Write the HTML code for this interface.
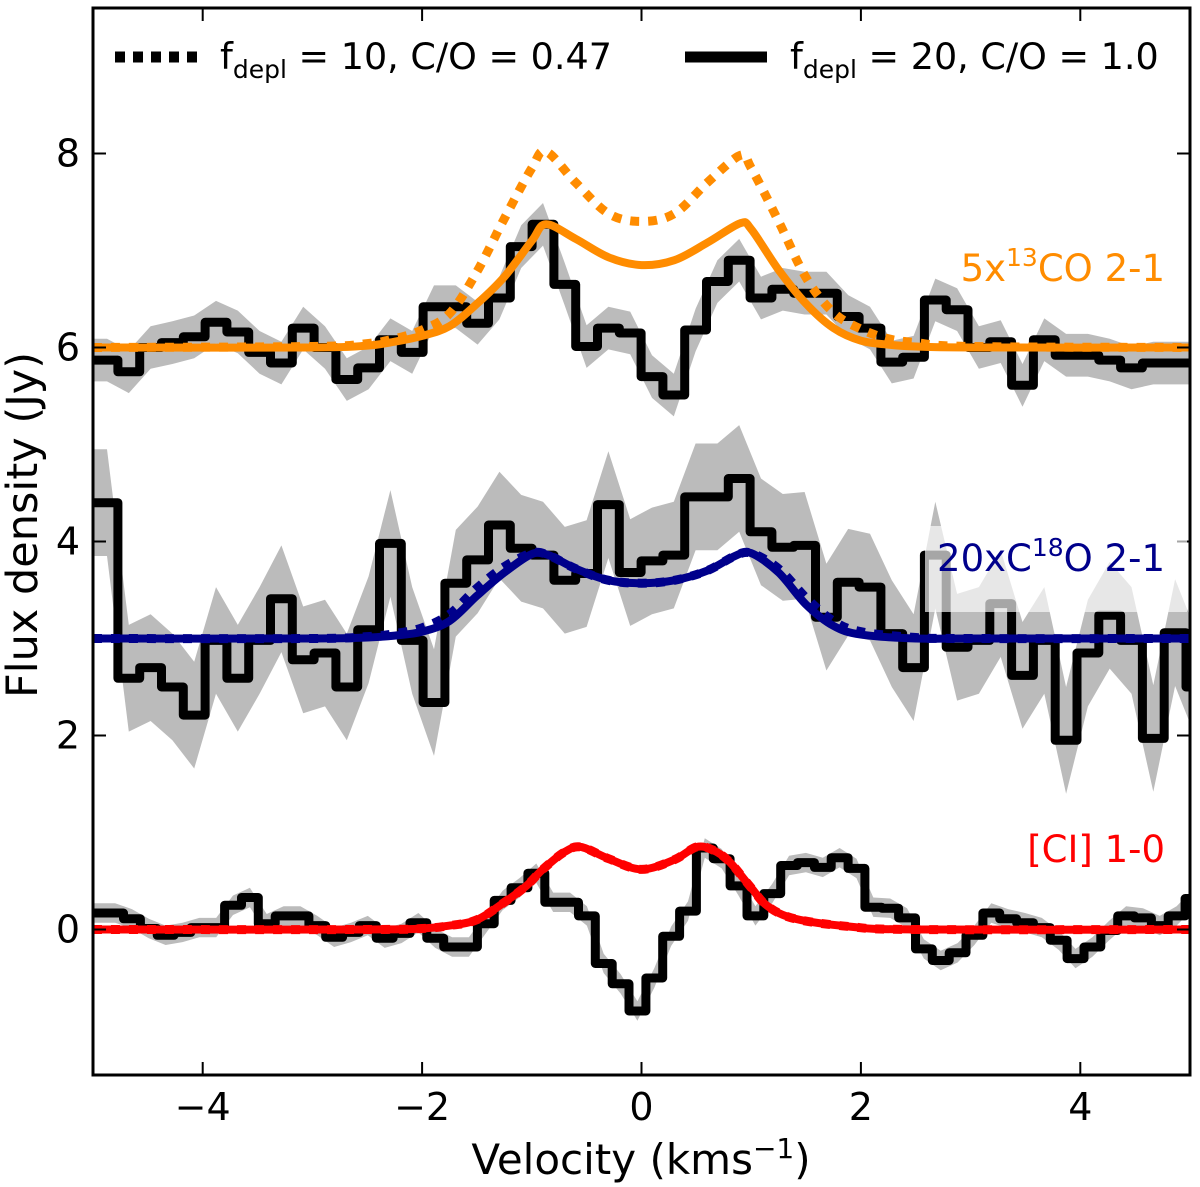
<!DOCTYPE html>
<html><head><meta charset="utf-8"><style>
html,body{margin:0;padding:0;background:#fff;}
svg{display:block;font-family:"DejaVu Sans","Liberation Sans",sans-serif;}
</style></head><body>
<svg id="chart" width="1200" height="1187" viewBox="0 0 1200 1187" xmlns="http://www.w3.org/2000/svg">
<defs><clipPath id="clip"><rect x="93" y="8" width="1097" height="1067"/></clipPath></defs>
<g id="plot" clip-path="url(#clip)"></g>
<rect x="93" y="8" width="1097" height="1067" fill="none" stroke="#000" stroke-width="3"/>
<g id="axes"></g>
<g font-size="36.5">
  <g>
    <line x1="115" y1="57" x2="197" y2="57" stroke="#000" stroke-width="11" stroke-dasharray="10,8"/>
    <text x="220" y="69">f<tspan font-size="25" dy="9">depl</tspan><tspan dy="-9"> = 10, C/O = 0.47</tspan></text>
  </g>
  <g>
    <line x1="685" y1="57" x2="767" y2="57" stroke="#000" stroke-width="11"/>
    <text x="790" y="69">f<tspan font-size="25" dy="9">depl</tspan><tspan dy="-9"> = 20, C/O = 1.0</tspan></text>
  </g>
</g>
<text x="1165" y="281" text-anchor="end" font-size="37" fill="#ff8c00">5x<tspan font-size="25" dy="-15">13</tspan><tspan dy="15">CO 2-1</tspan></text>
<rect x="925" y="526" width="262" height="86" fill="#fff" fill-opacity="0.65"/>
<text x="1165" y="571" text-anchor="end" font-size="37" fill="#00008b">20xC<tspan font-size="25" dy="-15">18</tspan><tspan dy="15">O 2-1</tspan></text>
<text x="1165" y="862" text-anchor="end" font-size="37" fill="#ff0000">[CI] 1-0</text>
<text x="641" y="1174" text-anchor="middle" font-size="42">Velocity (kms<tspan font-size="28" dy="-16">−1</tspan><tspan dy="16">)</tspan></text>
<text transform="translate(37,525) rotate(-90)" text-anchor="middle" font-size="43">Flux density (Jy)</text>
</svg>
<script>
// ---- data ----
const xTicks = [-4,-2,0,2,4];
const yTicks = [0,2,4,6,8];
const coStart = -5.17, coDv = 0.1987;
const co13 = [5.87,5.87,5.75,6.0,6.05,6.11,6.26,6.16,5.95,5.84,6.2,6.0,5.67,5.79,6.08,5.95,6.42,6.42,6.25,6.51,7.04,7.27,6.65,6.01,6.2,6.15,5.7,5.51,6.18,6.68,6.9,6.51,6.6,6.56,6.56,6.32,6.2,5.85,5.9,6.49,6.39,6.0,6.06,5.61,6.08,5.92,5.92,5.87,5.79,5.84,5.84,5.84];
const c18o = [4.4,4.4,2.59,2.7,2.5,2.21,2.98,2.59,2.98,3.41,2.78,2.85,2.5,3.09,3.98,2.98,2.34,3.57,3.81,4.17,3.93,3.86,3.6,3.67,4.38,3.68,3.8,3.86,4.46,4.46,4.65,4.1,3.94,3.96,3.22,3.58,3.53,3.05,2.7,3.86,2.91,2.98,3.36,2.62,2.98,1.95,2.85,3.24,2.98,1.97,3.06,2.5,2.5];
const ciStart = -5.029, ciDv = 0.1536;
const ci = [0.17,0.17,0.11,0.01,-0.06,-0.03,0.02,0.02,0.25,0.33,0.06,0.14,0.14,0.04,-0.08,-0.03,0.04,-0.09,-0.04,0.07,-0.09,-0.18,-0.18,0.06,0.3,0.43,0.58,0.28,0.28,0.14,-0.35,-0.56,-0.84,-0.5,-0.07,0.19,0.84,0.73,0.45,0.14,0.37,0.66,0.69,0.64,0.74,0.63,0.23,0.22,0.12,-0.2,-0.32,-0.24,-0.06,0.17,0.11,0.07,0.02,-0.11,-0.3,-0.18,-0.01,0.14,0.12,0.04,0.14,0.32,0.32];
const errCo = 0.22, errC18o = 0.55, errCi = 0.1;
const coV = [-5,-3,-2.5,-2.25,-2,-1.75,-1.5,-1.25,-1,-0.87,-0.6,-0.3,0,0.3,0.6,0.9,1,1.25,1.5,1.75,2,2.25,2.5,3,5];
const coSolid = [6.0,6.0,6.02,6.06,6.12,6.22,6.45,6.73,7.1,7.27,7.12,6.93,6.85,6.9,7.08,7.28,7.22,6.8,6.45,6.2,6.07,6.03,6.01,6.0,6.0];
const coDotted = [6.0,6.01,6.04,6.09,6.18,6.35,6.78,7.33,7.85,8.02,7.7,7.38,7.3,7.38,7.7,7.98,7.85,7.3,6.72,6.36,6.19,6.09,6.05,6.01,6.0];
const c18V = [-5,-3,-2.5,-2.25,-2,-1.75,-1.5,-1.25,-1,-0.85,-0.6,-0.3,0,0.3,0.6,0.85,1,1.25,1.5,1.75,2,2.5,3,5];
const c18Solid = [3.0,3.0,3.01,3.03,3.07,3.18,3.44,3.68,3.87,3.86,3.72,3.6,3.57,3.6,3.7,3.85,3.88,3.68,3.35,3.13,3.04,3.0,3.0,3.0];
const c18Dotted = [3.0,3.0,3.02,3.05,3.11,3.25,3.52,3.74,3.88,3.86,3.72,3.6,3.57,3.6,3.7,3.85,3.88,3.72,3.42,3.18,3.07,3.01,3.0,3.0];
const ciV = [-5,-2.5,-2,-1.75,-1.5,-1.25,-1.05,-0.9,-0.7,-0.55,-0.3,0,0.3,0.5,0.65,0.8,1.0,1.15,1.4,1.9,2.5,5];
const ciSolid = [0,0,0.01,0.04,0.1,0.28,0.45,0.62,0.8,0.85,0.73,0.62,0.72,0.85,0.82,0.7,0.43,0.24,0.11,0.03,0,0];
const ciDotted = [0,0,0.01,0.04,0.1,0.28,0.45,0.62,0.8,0.85,0.73,0.62,0.72,0.85,0.82,0.7,0.43,0.24,0.11,0.03,0,0];

// ---- scales ----
const X0=93, X1=1190, Y0=8, Y1=1075, VMIN=-5, VMAX=5, FMIN=-1.5, FMAX=9.5;
function xs(v){return X0+(v-VMIN)/(VMAX-VMIN)*(X1-X0);}
function ys(f){return Y1-(f-FMIN)/(FMAX-FMIN)*(Y1-Y0);}
const NS='http://www.w3.org/2000/svg';
const plot=document.getElementById('plot'), axes=document.getElementById('axes');
function mk(tag,attrs,parent){const e=document.createElementNS(NS,tag);for(const k in attrs)e.setAttribute(k,attrs[k]);parent.appendChild(e);return e;}

function band(vals,start,dv,err,name){
  const up=[],lo=[];
  vals.forEach((f,i)=>{const x=xs(start+(i+0.5)*dv);up.push(x.toFixed(1)+','+ys(f+err).toFixed(1));lo.unshift(x.toFixed(1)+','+ys(f-err).toFixed(1));});
  const first=xs(start), last=xs(start+vals.length*dv);
  const p=mk('polygon',{points:[first+','+ys(vals[0]+err)].concat(up,[last+','+ys(vals[vals.length-1]+err),last+','+ys(vals[vals.length-1]-err)],lo,[first+','+ys(vals[0]-err)]).join(' '),fill:'#bbbbbb'},plot);
  
  
}
function steps(vals,start,dv,name){
  let d='';
  vals.forEach((f,i)=>{const xa=xs(start+i*dv),xb=xs(start+(i+1)*dv),y=ys(f);d+=(i===0?'M'+xa.toFixed(1)+','+y.toFixed(1):'V'+y.toFixed(1))+'H'+xb.toFixed(1);});
  const p=mk('path',{d:d,fill:'none',stroke:'#000','stroke-width':9,'stroke-linejoin':'round'},plot);
  
  
}
function curve(vs,fs,color,dotted,name){
  const pts=vs.map((v,i)=>[xs(v),ys(fs[i])]);
  let d='M'+pts[0][0]+','+pts[0][1];
  for(let i=0;i<pts.length-1;i++){
    const p0=pts[Math.max(0,i-1)],p1=pts[i],p2=pts[i+1],p3=pts[Math.min(pts.length-1,i+2)];
    const c1=[p1[0]+(p2[0]-p0[0])/6,p1[1]+(p2[1]-p0[1])/6],c2=[p2[0]-(p3[0]-p1[0])/6,p2[1]-(p3[1]-p1[1])/6];
    d+='C'+c1[0].toFixed(1)+','+c1[1].toFixed(1)+' '+c2[0].toFixed(1)+','+c2[1].toFixed(1)+' '+p2[0].toFixed(1)+','+p2[1].toFixed(1);
  }
  const a={d:d,fill:'none',stroke:color,'stroke-width':dotted?9:8};
  if(dotted)a['stroke-dasharray']='9,9';
  const p=mk('path',a,plot);
  
  
}
band(co13,coStart,coDv,errCo,'band-13co');
band(c18o,coStart,coDv,errC18o,'band-c18o');
band(ci,ciStart,ciDv,errCi,'band-ci');
steps(co13,coStart,coDv,'spectrum-13co');
steps(c18o,coStart,coDv,'spectrum-c18o');
steps(ci,ciStart,ciDv,'spectrum-ci');
curve(coV,coSolid,'#ff8c00',false,'model-13co-solid');
curve(coV,coDotted,'#ff8c00',true,'model-13co-dotted');
curve(c18V,c18Solid,'#00008b',false,'model-c18o-solid');
curve(c18V,c18Dotted,'#00008b',true,'model-c18o-dotted');
curve(ciV,ciSolid,'#ff0000',false,'model-ci-solid');
curve(ciV,ciDotted,'#ff0000',true,'model-ci-dotted');

xTicks.forEach(v=>{
  const x=xs(v);
  mk('line',{x1:x,y1:Y1,x2:x,y2:Y1-13,stroke:'#000','stroke-width':2},axes);
  mk('line',{x1:x,y1:Y0,x2:x,y2:Y0+13,stroke:'#000','stroke-width':2},axes);
  const t=mk('text',{x:x,y:1120,'text-anchor':'middle','font-size':38},axes);
  t.textContent=(v<0?'\u2212':'')+Math.abs(v);
  
  
});
yTicks.forEach(f=>{
  const y=ys(f);
  mk('line',{x1:X0,y1:y,x2:X0+13,y2:y,stroke:'#000','stroke-width':2},axes);
  mk('line',{x1:X1,y1:y,x2:X1-13,y2:y,stroke:'#000','stroke-width':2},axes);
  const t=mk('text',{x:80,y:y+13,'text-anchor':'end','font-size':38},axes);
  t.textContent=String(f);
  
  
});
</script>
</body></html>
